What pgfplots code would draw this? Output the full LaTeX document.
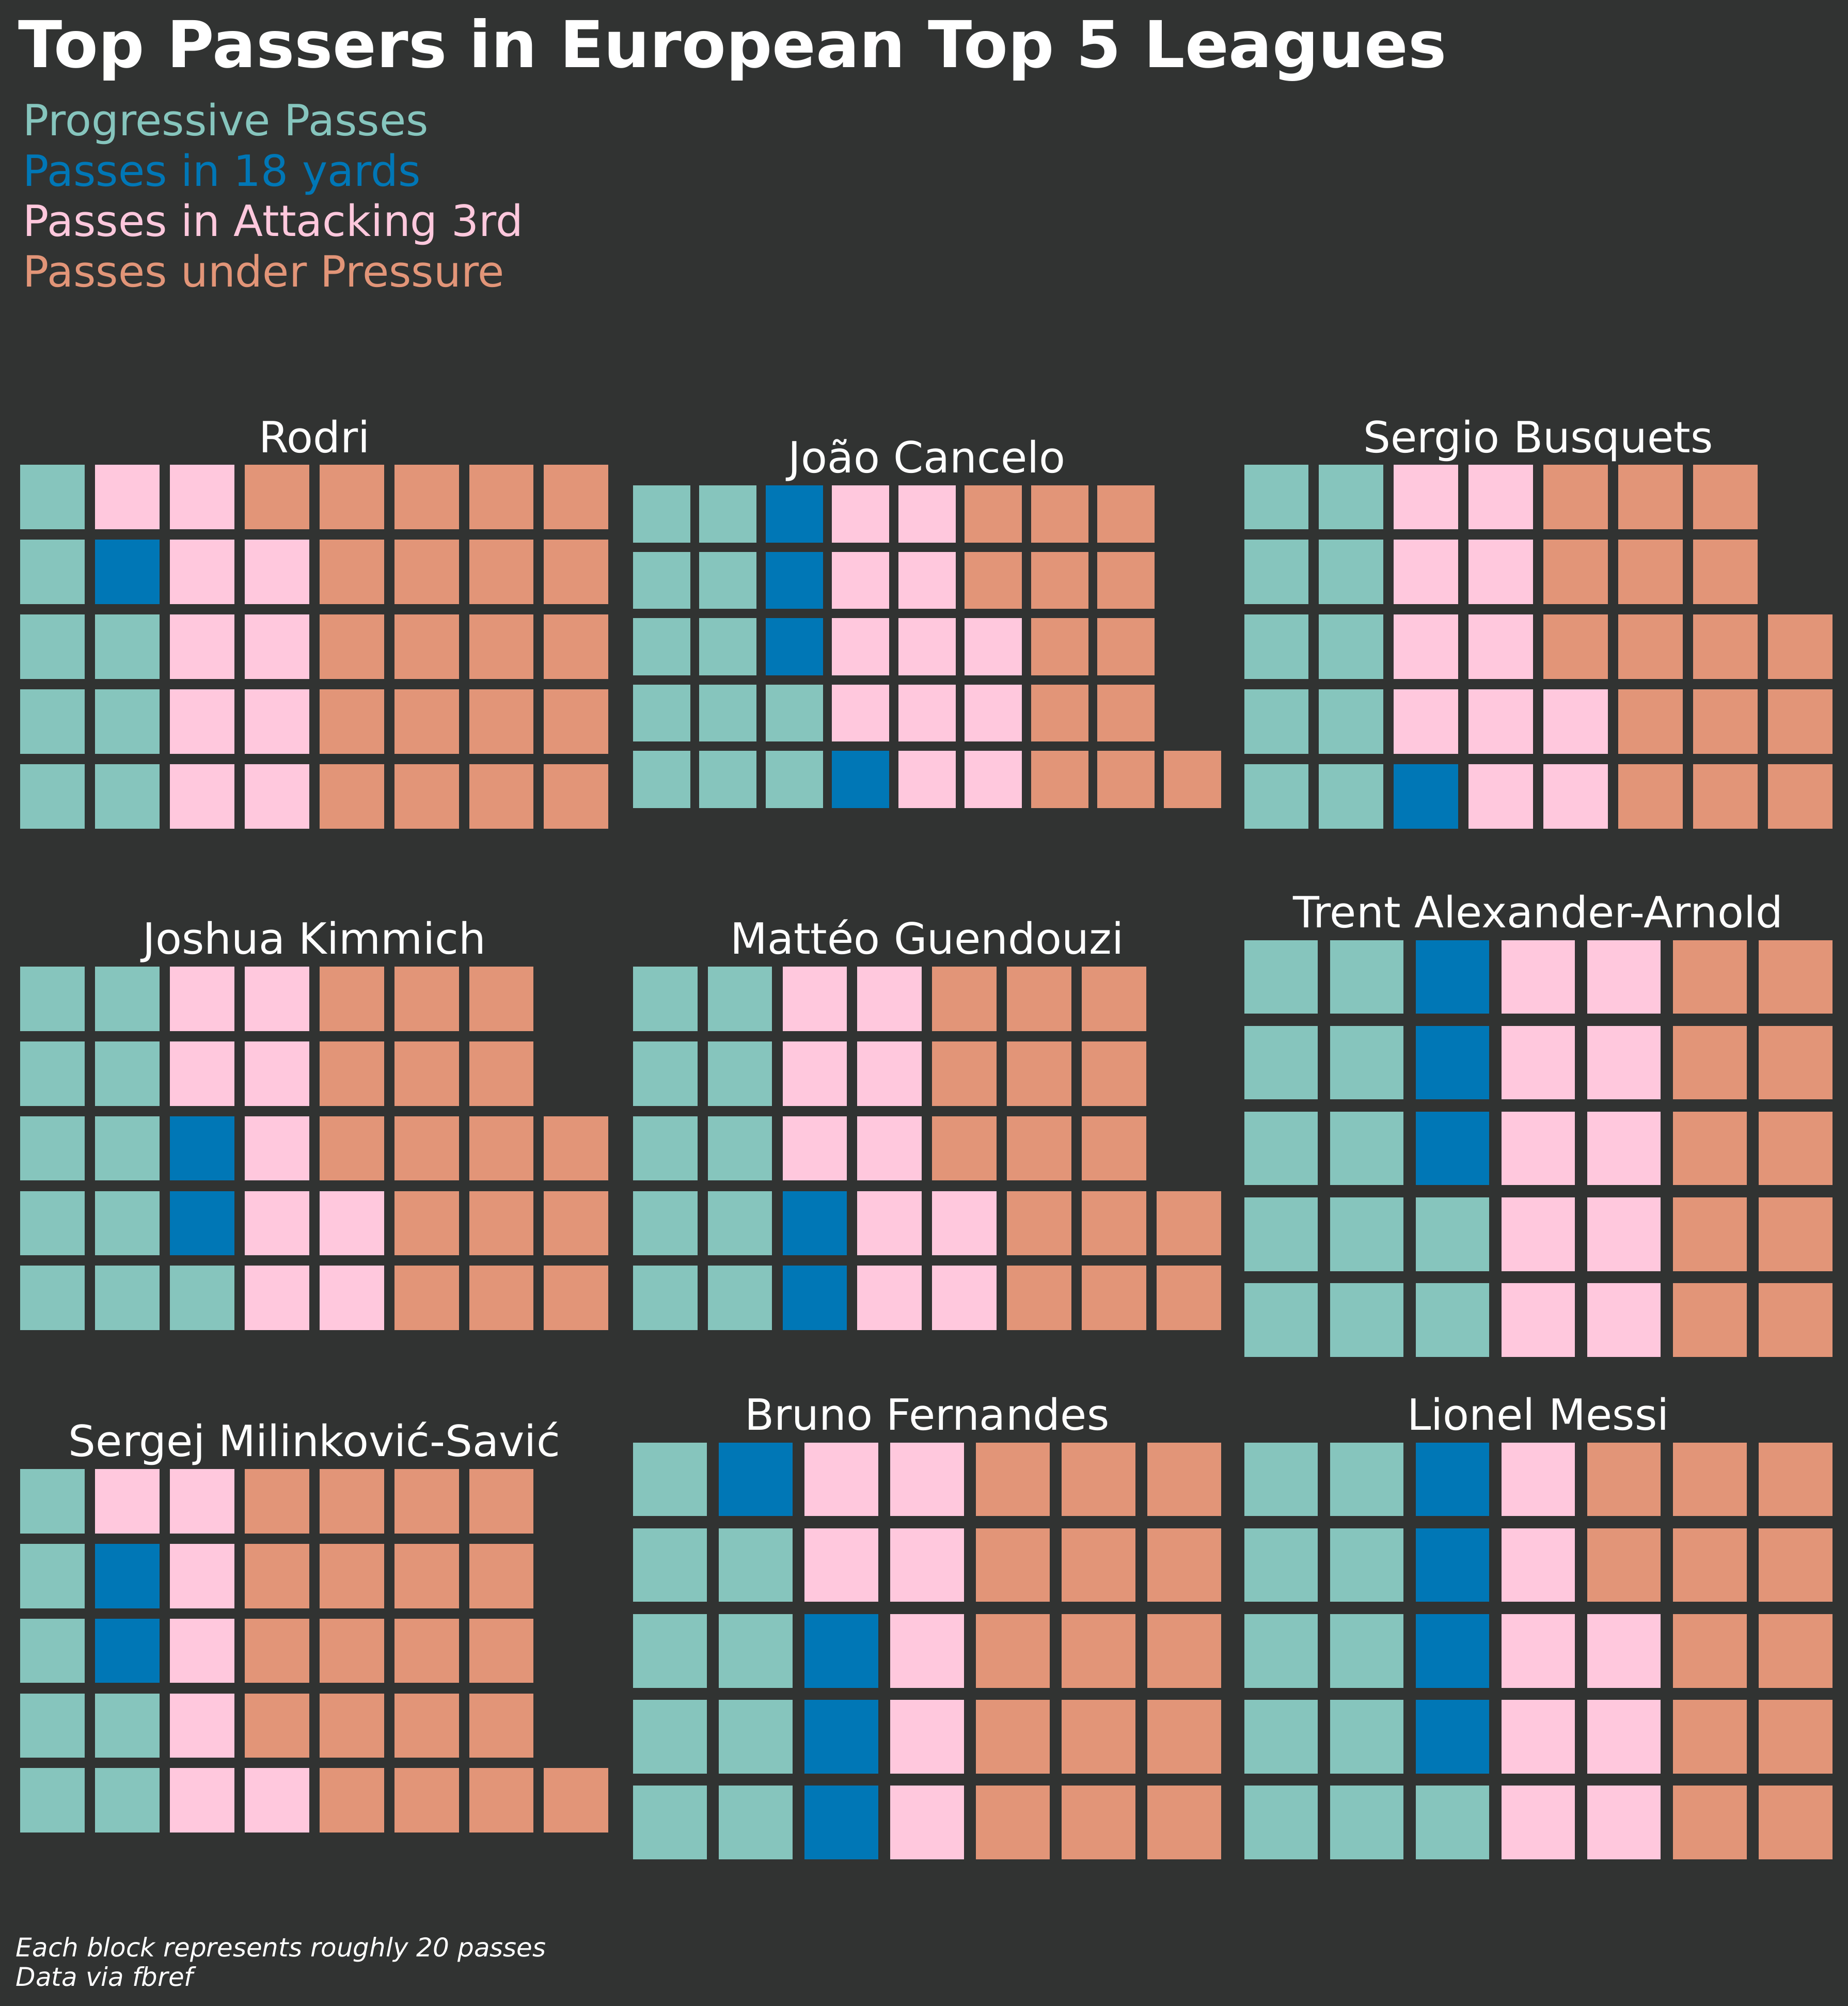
\documentclass[border=0pt]{standalone}
\usepackage{fontspec}
\setmainfont{DejaVu Sans}[BoldFont={DejaVu Sans Bold},ItalicFont={DejaVu Sans Oblique}]
\usepackage{pgfplots}
\pgfplotsset{compat=1.18}
\definecolor{bgc}{HTML}{313332}
\definecolor{tealc}{HTML}{86C5BD}
\definecolor{bluec}{HTML}{0077B6}
\definecolor{pinkc}{HTML}{FFC8DD}
\definecolor{salmc}{HTML}{E29578}
\pgfplotsset{
  waffle/.style={scale only axis, hide axis, clip=false, width=273.12pt,
    ymin=-0.4275, ymax=4.4275, anchor=west,
    every axis title/.style={at={(0.5,1)}, anchor=base, yshift=5.93pt, inner sep=0pt,
      font=\fontsize{20}{24}\selectfont, text=white},
    every axis plot/.append style={only marks, mark=square*, mark options={line width=0pt}}},
  w7/.style={waffle, xmin=-0.4275, xmax=6.4275, height=193.44pt,
    every axis plot/.append style={mark size=17.03pt}},
  w8/.style={waffle, xmin=-0.4275, xmax=7.4275, height=168.82pt,
    every axis plot/.append style={mark size=14.86pt}},
  w9/.style={waffle, xmin=-0.4275, xmax=8.4275, height=149.74pt,
    every axis plot/.append style={mark size=13.19pt}},
}
\newcommand{\waffle}[8]{%
\begin{axis}[#3, at={(#1,#2)}, title={#4}]
\addplot[tealc] coordinates {#5};
\addplot[bluec] coordinates {#6};
\addplot[pinkc] coordinates {#7};
\addplot[salmc] coordinates {#8};
\end{axis}}
\begin{document}
\begin{tikzpicture}
\fill[bgc] (0,0) rectangle (858.96pt,-932.4pt);
\node[anchor=base west, inner sep=0pt, text=white, font=\fontsize{30}{36}\selectfont\bfseries] at (8.4pt,-31.3pt) {Top Passers in European Top 5 Leagues};
\node[anchor=base west, inner sep=0pt, text=tealc, font=\fontsize{20}{24}\selectfont] at (10.56pt,-63.05pt) {Progressive Passes};
\node[anchor=base west, inner sep=0pt, text=bluec, font=\fontsize{20}{24}\selectfont] at (10.56pt,-86.4pt) {Passes in 18 yards};
\node[anchor=base west, inner sep=0pt, text=pinkc, font=\fontsize{20}{24}\selectfont] at (10.56pt,-109.75pt) {Passes in Attacking 3rd};
\node[anchor=base west, inner sep=0pt, text=salmc, font=\fontsize{20}{24}\selectfont] at (10.56pt,-133.2pt) {Passes under Pressure};
\node[anchor=base west, inner sep=0pt, text=white, font=\fontsize{12}{14}\selectfont\itshape] at (7.2pt,-909.43pt) {Each block represents roughly 20 passes};
\node[anchor=base west, inner sep=0pt, text=white, font=\fontsize{12}{14}\selectfont\itshape] at (7.2pt,-923.04pt) {Data via fbref};

% Row 1
\waffle{9.55pt}{-300.6pt}{w8}{Rodri}
{(0,0)(0,1)(0,2)(0,3)(0,4)(1,0)(1,1)(1,2)}
{(1,3)}
{(1,4)(2,0)(2,1)(2,2)(2,3)(2,4)(3,0)(3,1)(3,2)(3,3)}
{(3,4)(4,0)(4,1)(4,2)(4,3)(4,4)(5,0)(5,1)(5,2)(5,3)(5,4)(6,0)(6,1)(6,2)(6,3)(6,4)(7,0)(7,1)(7,2)(7,3)(7,4)}
\waffle{294.3pt}{-300.6pt}{w9}{João Cancelo}
{(0,0)(0,1)(0,2)(0,3)(0,4)(1,0)(1,1)(1,2)(1,3)(1,4)(2,0)(2,1)}
{(2,2)(2,3)(2,4)(3,0)}
{(3,1)(3,2)(3,3)(3,4)(4,0)(4,1)(4,2)(4,3)(4,4)(5,0)(5,1)(5,2)}
{(5,3)(5,4)(6,0)(6,1)(6,2)(6,3)(6,4)(7,0)(7,1)(7,2)(7,3)(7,4)(8,0)}
\waffle{578.4pt}{-300.6pt}{w8}{Sergio Busquets}
{(0,0)(0,1)(0,2)(0,3)(0,4)(1,0)(1,1)(1,2)(1,3)(1,4)}
{(2,0)}
{(2,1)(2,2)(2,3)(2,4)(3,0)(3,1)(3,2)(3,3)(3,4)(4,0)(4,1)}
{(4,2)(4,3)(4,4)(5,0)(5,1)(5,2)(5,3)(5,4)(6,0)(6,1)(6,2)(6,3)(6,4)(7,0)(7,1)(7,2)}
% Row 2
\waffle{9.55pt}{-533.76pt}{w8}{Joshua Kimmich}
{(0,0)(0,1)(0,2)(0,3)(0,4)(1,0)(1,1)(1,2)(1,3)(1,4)(2,0)}
{(2,1)(2,2)}
{(2,3)(2,4)(3,0)(3,1)(3,2)(3,3)(3,4)(4,0)(4,1)}
{(4,2)(4,3)(4,4)(5,0)(5,1)(5,2)(5,3)(5,4)(6,0)(6,1)(6,2)(6,3)(6,4)(7,0)(7,1)(7,2)}
\waffle{294.3pt}{-533.76pt}{w8}{Mattéo Guendouzi}
{(0,0)(0,1)(0,2)(0,3)(0,4)(1,0)(1,1)(1,2)(1,3)(1,4)}
{(2,0)(2,1)}
{(2,2)(2,3)(2,4)(3,0)(3,1)(3,2)(3,3)(3,4)(4,0)(4,1)}
{(4,2)(4,3)(4,4)(5,0)(5,1)(5,2)(5,3)(5,4)(6,0)(6,1)(6,2)(6,3)(6,4)(7,0)(7,1)}
\waffle{578.4pt}{-533.76pt}{w7}{Trent Alexander-Arnold}
{(0,0)(0,1)(0,2)(0,3)(0,4)(1,0)(1,1)(1,2)(1,3)(1,4)(2,0)(2,1)}
{(2,2)(2,3)(2,4)}
{(3,0)(3,1)(3,2)(3,3)(3,4)(4,0)(4,1)(4,2)(4,3)(4,4)}
{(5,0)(5,1)(5,2)(5,3)(5,4)(6,0)(6,1)(6,2)(6,3)(6,4)}
% Row 3
\waffle{9.55pt}{-767.28pt}{w8}{Sergej Milinković-Savić}
{(0,0)(0,1)(0,2)(0,3)(0,4)(1,0)(1,1)}
{(1,2)(1,3)}
{(1,4)(2,0)(2,1)(2,2)(2,3)(2,4)(3,0)}
{(3,1)(3,2)(3,3)(3,4)(4,0)(4,1)(4,2)(4,3)(4,4)(5,0)(5,1)(5,2)(5,3)(5,4)(6,0)(6,1)(6,2)(6,3)(6,4)(7,0)}
\waffle{294.3pt}{-767.28pt}{w7}{Bruno Fernandes}
{(0,0)(0,1)(0,2)(0,3)(0,4)(1,0)(1,1)(1,2)(1,3)}
{(1,4)(2,0)(2,1)(2,2)}
{(2,3)(2,4)(3,0)(3,1)(3,2)(3,3)(3,4)}
{(4,0)(4,1)(4,2)(4,3)(4,4)(5,0)(5,1)(5,2)(5,3)(5,4)(6,0)(6,1)(6,2)(6,3)(6,4)}
\waffle{578.4pt}{-767.28pt}{w7}{Lionel Messi}
{(0,0)(0,1)(0,2)(0,3)(0,4)(1,0)(1,1)(1,2)(1,3)(1,4)(2,0)}
{(2,1)(2,2)(2,3)(2,4)}
{(3,0)(3,1)(3,2)(3,3)(3,4)(4,0)(4,1)(4,2)}
{(4,3)(4,4)(5,0)(5,1)(5,2)(5,3)(5,4)(6,0)(6,1)(6,2)(6,3)(6,4)}
\end{tikzpicture}
\end{document}
